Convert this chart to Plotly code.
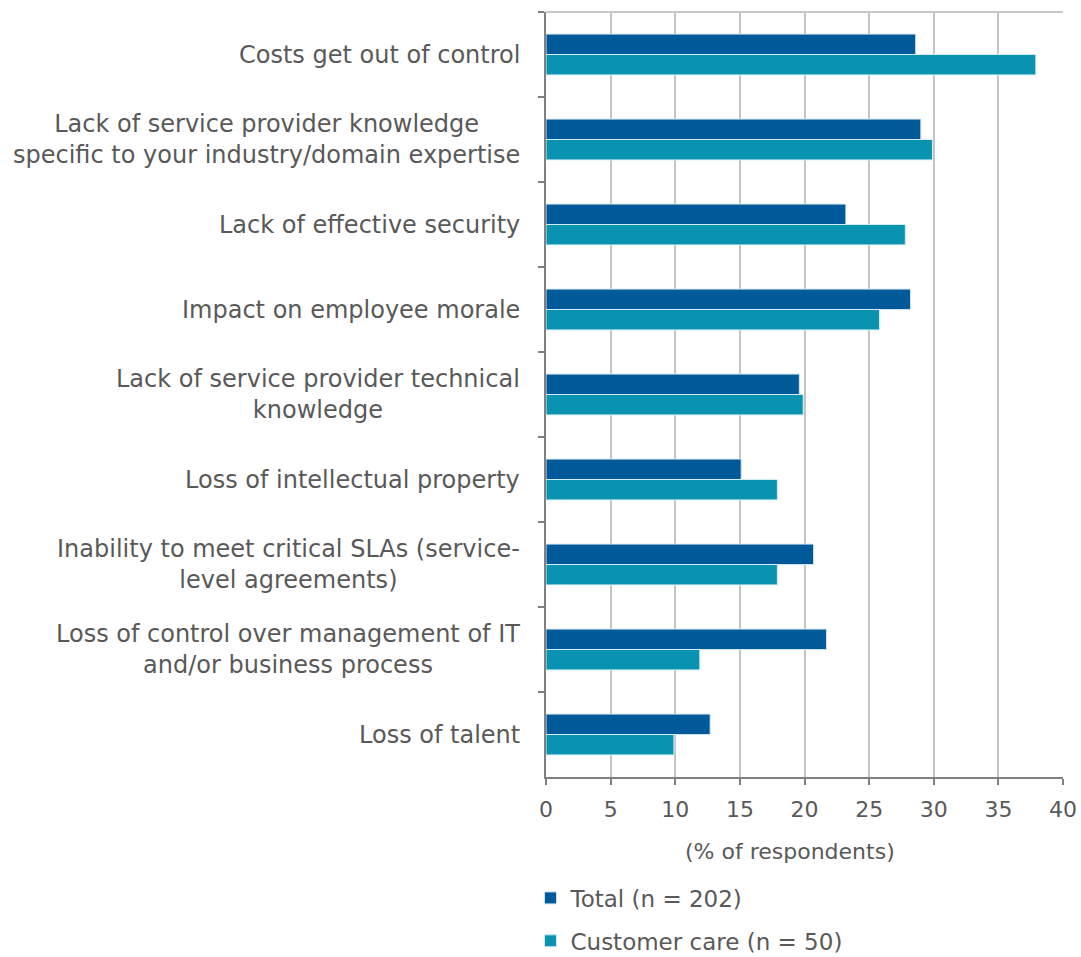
import plotly.graph_objects as go

categories = [
    "Costs get out of control",
    "Lack of service provider knowledge<br>specific to your industry/domain expertise",
    "Lack of effective security",
    "Impact on employee morale",
    "Lack of service provider technical<br>knowledge",
    "Loss of intellectual property",
    "Inability to meet critical SLAs (service-<br>level agreements)",
    "Loss of control over management of IT<br>and/or business process",
    "Loss of talent",
]
total_values = [28.6, 29.0, 23.2, 28.2, 19.6, 15.1, 20.7, 21.7, 12.7]
care_values = [37.9, 29.9, 27.8, 25.8, 19.9, 17.9, 17.9, 11.9, 9.9]
series_names = ["Total (n = 202)", "Customer care (n = 50)"]
tick_vals = [0, 5, 10, 15, 20, 25, 30, 35, 40]
x_title = "(% of respondents)"

TEXT = "#595959"
FONT = "DejaVu Sans"

fig = go.Figure()
fig.add_trace(go.Bar(
    y=categories, x=total_values, orientation="h", name=series_names[0],
    marker=dict(color="#005A9A", line=dict(color="#CFE3EE", width=1)),
    legendgroup="a",
))
fig.add_trace(go.Bar(
    y=categories, x=care_values, orientation="h", name=series_names[1],
    marker=dict(color="#0A93B0", line=dict(color="#CFEDF3", width=1)),
    legendgroup="b",
))

for c in categories:
    fig.add_annotation(
        x=0, xref="paper", y=c, yref="y", text=c, showarrow=False,
        xanchor="right", xshift=-24, align="center",
        font=dict(family=FONT, size=24, color=TEXT),
    )

fig.add_annotation(
    x=0.472, xref="paper", y=-0.097, yref="paper", text=x_title,
    showarrow=False, xanchor="center", yanchor="middle",
    font=dict(family=FONT, size=22, color=TEXT),
)

fig.add_shape(type="line", xref="paper", yref="paper", x0=0, x1=1, y0=1, y1=1,
              line=dict(color="#C8C8C8", width=2))

fig.update_layout(
    width=1081, height=957,
    margin=dict(l=546, r=18, t=12, b=180, autoexpand=False),
    paper_bgcolor="white", plot_bgcolor="white",
    barmode="group", bargap=0.52, bargroupgap=0.0,
    font=dict(family=FONT, size=22, color=TEXT),
    showlegend=True,
    legend=dict(x=-0.03, y=-0.13, xanchor="left", yanchor="top",
                orientation="v", tracegroupgap=10,
                font=dict(family=FONT, size=23, color=TEXT),
                itemwidth=30),
    xaxis=dict(
        range=[0, 40], tickvals=tick_vals, showgrid=True,
        gridcolor="#C4C4C4", gridwidth=2,
        showline=True, linecolor="#808080", linewidth=2,
        ticks="outside", ticklen=6, tickcolor="#808080", tickwidth=2,
        ticklabelstandoff=6,
        tickfont=dict(family=FONT, size=22, color=TEXT),
        zeroline=False, fixedrange=True, automargin=False,
    ),
    yaxis=dict(
        categoryorder="array", categoryarray=categories,
        autorange="reversed", showticklabels=False,
        showline=True, linecolor="#808080", linewidth=2,
        ticks="outside", ticklen=6, tickcolor="#808080", tickwidth=2,
        tickson="boundaries", showgrid=False, automargin=False,
    ),
)

fig.write_html("out.html")
